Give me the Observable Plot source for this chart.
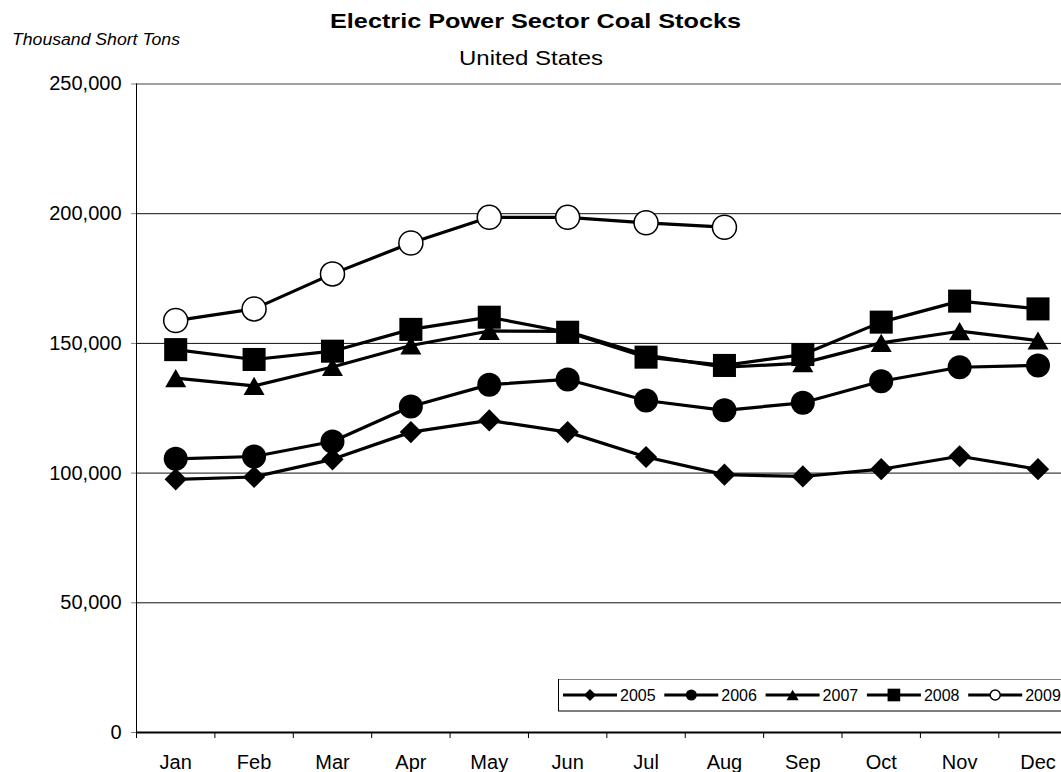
<!DOCTYPE html>
<html><head><meta charset="utf-8">
<script src="https://cdn.jsdelivr.net/npm/d3@7"></script>
<script src="https://cdn.jsdelivr.net/npm/@observablehq/plot@0.6"></script>
<style>
html,body{margin:0;padding:0;background:#fff;overflow:hidden;}
#wrap{position:relative;width:1080px;height:772px;font-family:"Liberation Sans",Arial,sans-serif;}
#wrap svg{position:absolute;left:0;top:0;}
</style></head><body><div id="wrap"></div>
<script>
const titleText = "Electric Power Sector Coal Stocks";
const subtitleText = "United States";
const unitText = "Thousand Short Tons";
const months = ["Jan","Feb","Mar","Apr","May","Jun","Jul","Aug","Sep","Oct","Nov","Dec"];
const years = ["2005","2006","2007","2008","2009"];
const stocks2005 = [97600, 98500, 105300, 115800, 120300, 115800, 106200, 99400, 98700, 101500, 106500, 101500];
const stocks2006 = [105500, 106400, 112200, 125700, 134100, 136100, 128000, 124200, 127100, 135400, 140800, 141500];
const stocks2007 = [136600, 133600, 140900, 149200, 154800, 154600, 145500, 140800, 142400, 150200, 154700, 151100];
const stocks2008 = [147600, 143800, 147000, 155400, 160100, 154300, 144700, 141500, 145700, 158200, 166300, 163300];
const stocks2009 = [158800, 163300, 176800, 188700, 198600, 198600, 196500, 194800, null, null, null, null];
const yTicks = [0, 50000, 100000, 150000, 200000, 250000];

const valuesByYear = [stocks2005, stocks2006, stocks2007, stocks2008, stocks2009];
const styles = [
  {symbol: "diamond2", d3sym: d3.symbolDiamond2, r: 10, fill: "black", dy: 0, lsize: 92, ldy: 0},
  {symbol: "circle", d3sym: d3.symbolCircle, r: 12, fill: "black", dy: 0, lsize: 95, ldy: 0},
  {symbol: "triangle", d3sym: d3.symbolTriangle, r: 7.8, fill: "black", dy: 3, lsize: 64, ldy: 1.7},
  {symbol: "square", d3sym: d3.symbolSquare, r: 13, fill: "black", dy: 0, lsize: 160, ldy: 0},
  {symbol: "circle", d3sym: d3.symbolCircle, r: 12, fill: "white", dy: 0, lsize: 80, ldy: 0}
];

const rowsFor = i => valuesByYear[i].map((v, m) => ({m, v, year: years[i]})).filter(d => d.v != null);

const marks = [
  Plot.ruleY(yTicks.filter(t => t > 0 && t < 250000), {stroke: "#111", strokeWidth: 1}),
  Plot.ruleY([250000], {stroke: "#808080", strokeWidth: 1.3}),
  Plot.axisY({ticks: yTicks, tickFormat: d3.format(","), tickSize: 5, tickPadding: 10, stroke: "#808080", fill: "black", label: null}),
  Plot.axisX({ticks: d3.range(months.length + 1).map(k => k - 0.5), tickFormat: () => "", tickSize: 6, stroke: "black", label: null}),
  Plot.axisX({ticks: d3.range(months.length), tickFormat: i => months[i], tickSize: 0, tickPadding: 22, fill: "black", label: null}),
  Plot.ruleX([-0.5], {y1: 0, y2: 250000, stroke: "black", strokeWidth: 1}),
  Plot.ruleY([0], {x1: -0.5, x2: months.length - 0.5, stroke: "black", strokeWidth: 2.2})
];
years.forEach((y, i) => {
  const rows = rowsFor(i);
  const s = styles[i];
  marks.push(Plot.line(rows, {x: "m", y: "v", stroke: "black", strokeWidth: 3.2}));
  marks.push(Plot.dot(rows, {x: "m", y: "v", symbol: s.symbol, r: s.r, fill: s.fill,
    stroke: s.fill === "white" ? "black" : "none", strokeWidth: 1.5, dy: s.dy}));
});

const chart = Plot.plot({
  width: 1080, height: 772,
  marginLeft: 136, marginRight: 3.3, marginTop: 83.5, marginBottom: 40,
  x: {domain: [-0.5, months.length - 0.5], label: null},
  y: {domain: [0, 250000], label: null},
  style: {fontFamily: "'Liberation Sans', Arial, sans-serif", fontSize: "20px", color: "black", background: "white", overflow: "visible"},
  marks
});
document.getElementById("wrap").appendChild(chart);

const ov = d3.select("#wrap").append("svg").attr("width", 1080).attr("height", 772)
  .style("font-family", "'Liberation Sans', Arial, sans-serif");
ov.append("text").attr("x", 535.5).attr("y", 28).attr("text-anchor", "middle")
  .attr("font-weight", "bold").attr("font-size", 21).attr("textLength", 411)
  .attr("lengthAdjust", "spacingAndGlyphs").text(titleText);
ov.append("text").attr("x", 531).attr("y", 65).attr("text-anchor", "middle")
  .attr("font-size", 21).attr("textLength", 144).attr("lengthAdjust", "spacingAndGlyphs").text(subtitleText);
ov.append("text").attr("x", 12).attr("y", 45).attr("font-style", "italic")
  .attr("font-size", 16).attr("textLength", 168).attr("lengthAdjust", "spacingAndGlyphs").text(unitText);

const lg = ov.append("g");
lg.append("rect").attr("x", 558.5).attr("y", 679.5).attr("width", 530).attr("height", 31.5)
  .attr("fill", "white").attr("stroke", "black");
lg.append("line").attr("x1", 559).attr("x2", 1080).attr("y1", 679.5).attr("y2", 679.5).attr("stroke", "#808080");
years.forEach((y, i) => {
  const s = styles[i];
  const x0 = 563 + i * 101.3, cy = 695;
  lg.append("line").attr("x1", x0).attr("x2", x0 + 54).attr("y1", cy).attr("y2", cy)
    .attr("stroke", "black").attr("stroke-width", 3);
  lg.append("path").attr("transform", `translate(${x0 + 27},${cy + s.ldy})`)
    .attr("d", d3.symbol(s.d3sym, s.lsize)())
    .attr("fill", s.fill).attr("stroke", s.fill === "white" ? "black" : "none").attr("stroke-width", 1.5);
  lg.append("text").attr("x", x0 + 57).attr("y", cy + 5.8).attr("font-size", 16).text(y);
});
</script></body></html>
